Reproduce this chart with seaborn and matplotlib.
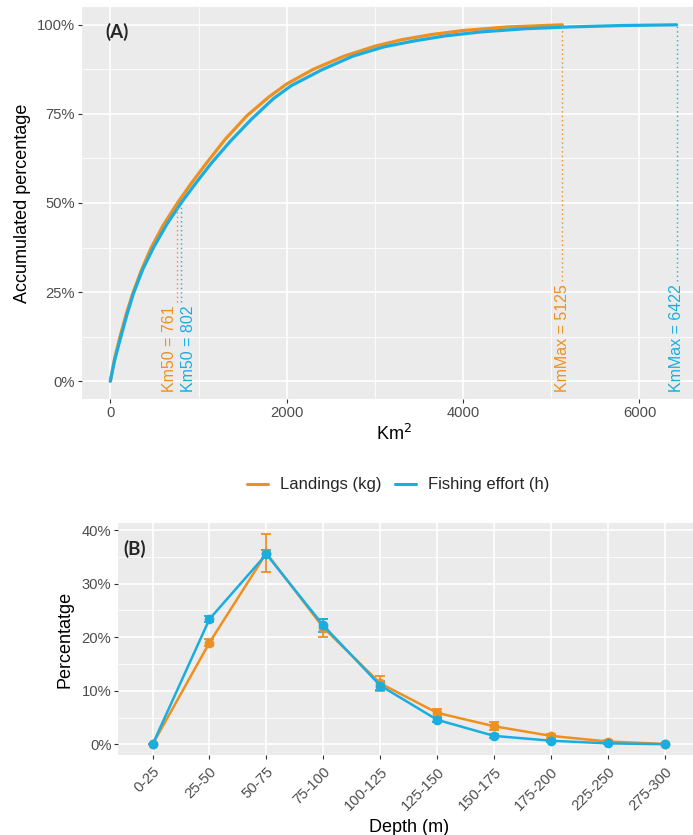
import matplotlib
matplotlib.use("Agg")
import matplotlib.pyplot as plt
from matplotlib.lines import Line2D
from matplotlib.ticker import FixedLocator, FuncFormatter
import pandas as pd
import seaborn as sns

# ---------------- data ----------------
series_names = ["Landings (kg)", "Fishing effort (h)"]

# (A) accumulated percentage versus area (km2)
km_land = [0, 50, 110, 180, 250, 350, 460, 600, 761, 920, 1100, 1300, 1549,
           1800, 2000, 2300, 2650, 3000, 3300, 3650, 4000, 4500, 5125]
pct_land = [0, 6.5, 12.5, 18.8, 24.3, 31.0, 37.3, 43.8, 50.0, 55.6, 61.5, 67.8,
            74.5, 79.8, 83.4, 87.5, 91.2, 94.0, 95.8, 97.3, 98.4, 99.4, 100]

km_eff = [0, 50, 120, 190, 265, 370, 490, 640, 802, 970, 1150, 1360, 1600,
          1850, 2050, 2400, 2750, 3100, 3450, 3800, 4200, 4700, 5200, 5800, 6422]
pct_eff = [0, 6.0, 12.5, 18.8, 24.8, 31.5, 37.5, 44.0, 50.0, 55.6, 61.3, 67.3,
           73.5, 79.3, 82.9, 87.4, 91.2, 93.8, 95.5, 96.9, 98.0, 98.9, 99.4, 99.8, 100]

km50_land, km50_eff = 761, 802
kmmax_land, kmmax_eff = 5125, 6422

# (B) percentage by depth stratum
depth_bins = ["0-25", "25-50", "50-75", "75-100", "100-125", "125-150",
              "150-175", "175-200", "225-250", "275-300"]
land_depth = [0, 19.0, 35.7, 21.8, 11.4, 5.9, 3.4, 1.6, 0.55, 0.1]
land_depth_err = [0, 0.6, 3.6, 1.7, 1.4, 0.8, 0.7, 0.35, 0.2, 0.05]
eff_depth = [0, 23.4, 35.5, 22.2, 11.0, 4.6, 1.6, 0.7, 0.2, 0.05]
eff_depth_err = [0, 0.5, 0.8, 1.3, 0.8, 0.5, 0.3, 0.2, 0.1, 0.03]

ORANGE = "#EE9021"
BLUE = "#1AADE0"
palette = {series_names[0]: ORANGE, series_names[1]: BLUE}

# ---------------- style ----------------
sns.set_theme(style="darkgrid", rc={
    "axes.facecolor": "#EBEBEB",
    "figure.facecolor": "white",
    "grid.color": "white",
    "axes.edgecolor": "none",
    "xtick.color": "#333333",
    "ytick.color": "#333333",
    "xtick.labelcolor": "#4D4D4D",
    "ytick.labelcolor": "#4D4D4D",
    "xtick.bottom": True,
    "ytick.left": True,
    "xtick.major.size": 3.0,
    "ytick.major.size": 3.0,
    "xtick.major.width": 0.8,
    "ytick.major.width": 0.8,
    "xtick.major.pad": 2.0,
    "ytick.major.pad": 2.0,
    "axes.labelcolor": "black",
})
plt.rcParams["font.family"] = ["Liberation Sans", "DejaVu Sans"]

fig = plt.figure(figsize=(6.93, 8.35), dpi=100)
W, H = 693, 835


def px_axes(left, top, right, bottom):
    return fig.add_axes([left / W, 1 - bottom / H, (right - left) / W, (bottom - top) / H])


pct_fmt = FuncFormatter(lambda v, _: f"{v:.0f}%")

# ---------------- panel A ----------------
axA = px_axes(82, 7, 705, 399)
dfA = pd.concat([
    pd.DataFrame({"km": km_land, "pct": pct_land, "series": series_names[0]}),
    pd.DataFrame({"km": km_eff, "pct": pct_eff, "series": series_names[1]}),
])
sns.lineplot(data=dfA, x="km", y="pct", hue="series", palette=palette,
             linewidth=2.3, sort=False, legend=False, ax=axA, estimator=None)

rngA = max(kmmax_land, kmmax_eff)
axA.set_xlim(-0.05 * rngA, 1.05 * rngA)
axA.set_ylim(-5, 105)
axA.xaxis.set_major_locator(FixedLocator([0, 2000, 4000, 6000]))
axA.xaxis.set_minor_locator(FixedLocator([1000, 3000, 5000]))
axA.yaxis.set_major_locator(FixedLocator([0, 25, 50, 75, 100]))
axA.yaxis.set_minor_locator(FixedLocator([12.5, 37.5, 62.5, 87.5]))
axA.yaxis.set_major_formatter(pct_fmt)
axA.grid(which="major", color="white", linewidth=1.2)
axA.grid(which="minor", color="white", linewidth=0.6)
axA.tick_params(which="minor", length=0)
axA.tick_params(labelsize=10.6)
axA.set_xlabel("Km$^2$", fontsize=13, labelpad=3)
axA.set_ylabel("Accumulated percentage", fontsize=13, labelpad=4)
axA.text(-57, 98, "(A)", fontsize=13.5, fontweight="bold", family=["Lato", "DejaVu Sans"],
         ha="left", va="center")

# reference labels with dotted guides
annotations = [
    (km50_land, 50, f"Km50 = {km50_land}", ORANGE, "right"),
    (km50_eff, 50, f"Km50 = {km50_eff}", BLUE, "left"),
    (kmmax_land, 100, f"KmMax = {kmmax_land}", ORANGE, "center"),
    (kmmax_eff, 100, f"KmMax = {kmmax_eff}", BLUE, "center"),
]
texts = []
for x, yv, label, col, ha in annotations:
    t = axA.text(x, -3, label, rotation=90, ha=ha, va="bottom", color=col, fontsize=11.5)
    texts.append((t, x, yv, col))
fig.canvas.draw()
inv = axA.transData.inverted()
for t, x, yv, col in texts:
    bb = t.get_window_extent()
    y_top = inv.transform((0, bb.y1))[1]
    axA.vlines(x, y_top + 1, yv, colors=col, linestyles=(0, (1, 2.2)), linewidth=1.0)

# ---------------- panel B ----------------
axB = px_axes(118.4, 523.3, 699, 755)
pos = list(range(len(depth_bins)))
dfB = pd.concat([
    pd.DataFrame({"pos": pos, "pct": land_depth, "err": land_depth_err, "series": series_names[0]}),
    pd.DataFrame({"pos": pos, "pct": eff_depth, "err": eff_depth_err, "series": series_names[1]}),
])
for name in series_names:
    sub = dfB[dfB["series"] == name]
    axB.errorbar(sub["pos"], sub["pct"], yerr=sub["err"], fmt="none",
                 ecolor=palette[name], elinewidth=1.3, capsize=3.5, capthick=1.3, zorder=2)
    sns.lineplot(data=sub, x="pos", y="pct", color=palette[name], linewidth=1.8,
                 marker="o", markersize=7, markeredgewidth=0, legend=False,
                 ax=axB, estimator=None, zorder=3)

ymaxB = max(v + e for v, e in zip(land_depth + eff_depth, land_depth_err + eff_depth_err))
axB.set_xlim(-0.6, len(depth_bins) - 1 + 0.6)
axB.set_ylim(-0.05 * ymaxB, 1.05 * ymaxB)
axB.set_xticks(pos)
axB.set_xticklabels(depth_bins, rotation=45, ha="right", va="top", rotation_mode="anchor")
axB.yaxis.set_major_locator(FixedLocator([0, 10, 20, 30, 40]))
axB.yaxis.set_minor_locator(FixedLocator([5, 15, 25, 35]))
axB.yaxis.set_major_formatter(pct_fmt)
axB.grid(which="major", color="white", linewidth=1.2)
axB.grid(which="minor", color="white", linewidth=0.6)
axB.tick_params(which="minor", length=0)
axB.tick_params(labelsize=10.6)
axB.tick_params(axis="x", pad=4)
axB.set_xlabel("Depth (m)", fontsize=13, labelpad=4)
axB.set_ylabel("Percentatge", fontsize=13, labelpad=6)
axB.text(-0.52, 36.4, "(B)", fontsize=13.5, fontweight="bold", family=["Lato", "DejaVu Sans"],
         ha="left", va="center")

# ---------------- shared legend ----------------
handles = [Line2D([0], [0], color=palette[n], linewidth=2.2) for n in series_names]
fig.legend(handles, series_names, loc="center", bbox_to_anchor=(398 / W, 1 - 485 / H),
           ncol=2, frameon=False, fontsize=12, handlelength=1.3, handletextpad=0.7,
           columnspacing=0.8)

fig.savefig("out.png", dpi=100)
